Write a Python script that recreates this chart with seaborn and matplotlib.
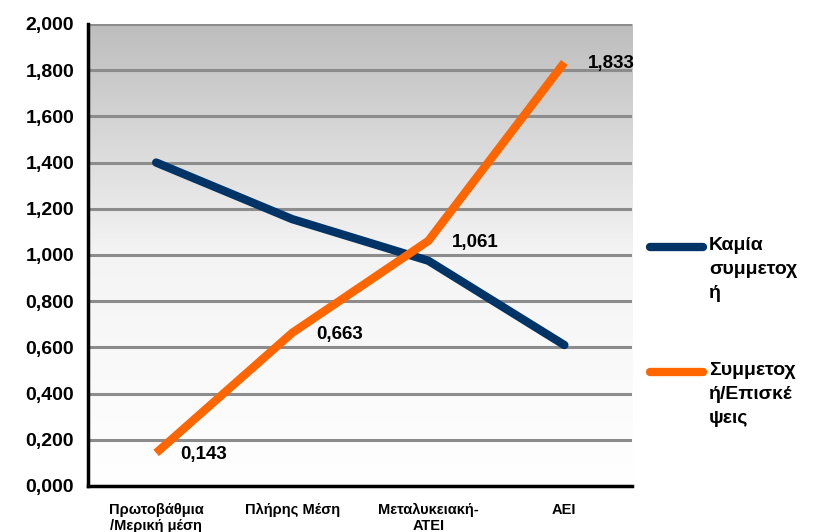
import numpy as np
import pandas as pd
import seaborn as sns
import matplotlib.pyplot as plt
from matplotlib.lines import Line2D
from matplotlib.colors import LinearSegmentedColormap
from matplotlib.ticker import FuncFormatter, FixedLocator

# data
categories = ["Πρωτοβάθμια\n/Μερική μέση", "Πλήρης Μέση", "Μεταλυκειακή-\nΑΤΕΙ", "ΑΕΙ"]
no_participation = [1.400, 1.155, 0.975, 0.610]
participation = [0.143, 0.663, 1.061, 1.833]
series_names = ["Καμία\nσυμμετοχ\nή", "Συμμετοχ\nή/Επισκέ\nψεις"]
colors = ["#003366", "#FF6600"]

df = pd.DataFrame({
    "cat": list(range(len(categories))) * 2,
    "value": no_participation + participation,
    "series": [series_names[0]] * 4 + [series_names[1]] * 4,
})

sns.set_style("white")
plt.rcParams["font.family"] = "Liberation Sans"
plt.rcParams["font.weight"] = "bold"
plt.rcParams["text.color"] = "black"
plt.rcParams["xtick.color"] = "black"
plt.rcParams["ytick.color"] = "black"

fig = plt.figure(figsize=(8.16, 5.32), dpi=100)
ax = fig.add_axes([0.108, 0.0865, 0.667, 0.8685])

# grey-to-white gradient background
grad = LinearSegmentedColormap.from_list("bg", ["#ffffff", "#f4f4f4", "#bdbdbd"])
ax.imshow(np.linspace(0, 1, 256).reshape(-1, 1), cmap=grad, aspect="auto",
          extent=(-0.5, 3.5, 0, 2), origin="lower", zorder=0)

sns.lineplot(data=df, x="cat", y="value", hue="series", palette=colors,
             linewidth=6, legend=False, ax=ax, zorder=3)
for ln, cap in zip(ax.get_lines(), ["round", "butt"]):
    ln.set_solid_capstyle(cap)
    ln.set_solid_joinstyle("round")

ax.set_xlim(-0.5, 3.5)
ax.set_ylim(0, 2)
ax.set_yticks(np.arange(0, 2.01, 0.2))
ax.yaxis.set_major_formatter(FuncFormatter(lambda v, p: f"{v:.3f}".replace(".", ",")))
ax.grid(axis="y", color="#8c8c8c", linewidth=2.2, zorder=1)
ax.set_axisbelow(True)

ax.set_xticks(range(len(categories)))
ax.set_xticklabels(categories, fontsize=10.5, fontweight="bold", linespacing=1.25)
ax.xaxis.set_minor_locator(FixedLocator([0.5, 1.5, 2.5, 3.5]))
ax.tick_params(axis="x", which="major", length=0, pad=12, labelcolor="black")
ax.tick_params(axis="x", which="minor", length=6, width=2.2, direction="out", color="black")
ax.tick_params(axis="y", length=6, width=2.2, direction="out", color="black",
               labelsize=14, pad=4, labelcolor="black")
for lbl in ax.get_yticklabels():
    lbl.set_fontweight("bold")

for side in ["top", "right"]:
    ax.spines[side].set_visible(False)
for side in ["left", "bottom"]:
    ax.spines[side].set_color("black")
    ax.spines[side].set_linewidth(2.5)
ax.set_xlabel("")
ax.set_ylabel("")

# data labels for the orange series
for i, v in enumerate(participation):
    ax.annotate(f"{v:.3f}".replace(".", ","), (i, v), xytext=(17, -1),
                textcoords="offset points", ha="left", va="center",
                fontsize=13.5, fontweight="bold", color="black", zorder=5)

# legend beside the plot
for name, col, y in zip(series_names, colors, [0.536, 0.301]):
    fig.add_artist(Line2D([0.797, 0.862], [y, y], color=col, linewidth=6,
                          solid_capstyle="round", transform=fig.transFigure))
    fig.text(0.869, y + 0.019, name, ha="left", va="top", fontsize=14,
             fontweight="bold", color="black", linespacing=1.55)

fig.savefig("out.png", dpi=100)
